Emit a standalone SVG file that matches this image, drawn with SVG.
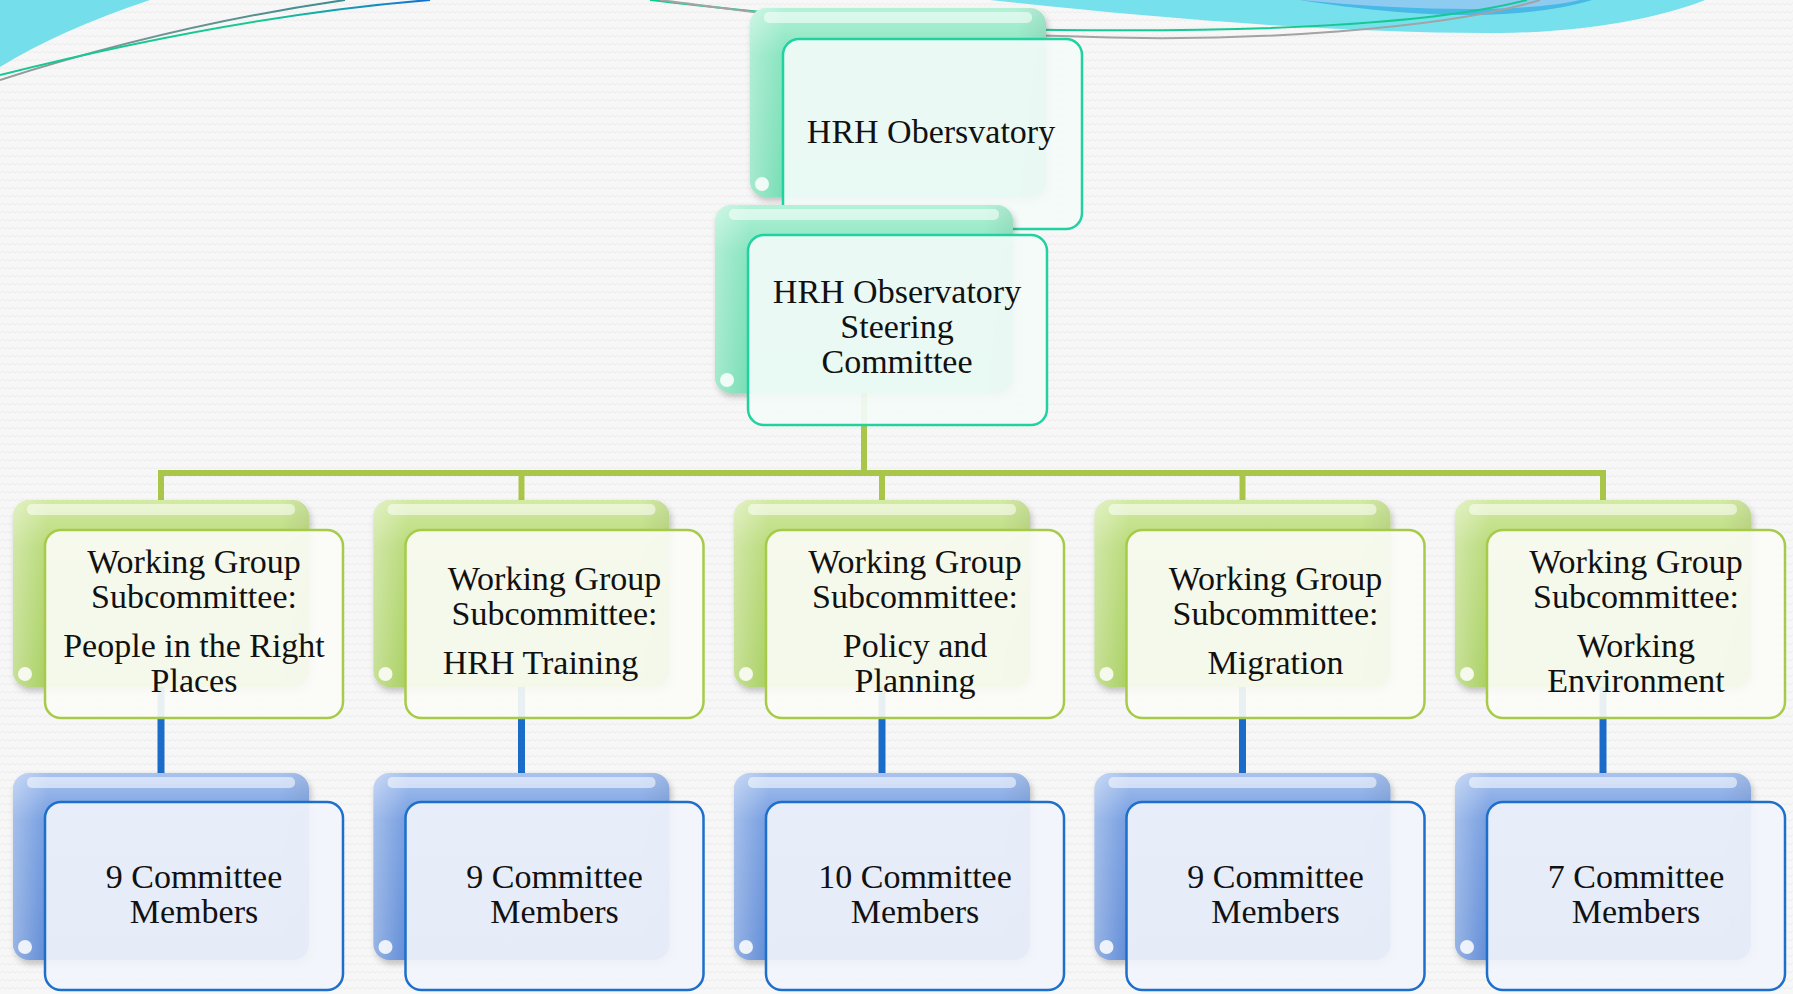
<svg xmlns="http://www.w3.org/2000/svg" width="1793" height="994" viewBox="0 0 1793 994">
<defs>
<pattern id="bgp" width="10" height="8" patternUnits="userSpaceOnUse">
<rect width="10" height="8" fill="#f7f7f7"/>
<path d="M0,5 L2.5,3 L5,5 L7.5,3 L10,5" fill="none" stroke="#ececec" stroke-width="1"/>
</pattern>
<linearGradient id="gGreen" x1="0" y1="0" x2="0" y2="1">
<stop offset="0" stop-color="#d3eaa4"/><stop offset="0.25" stop-color="#b8da78"/><stop offset="1" stop-color="#a8cf5f"/>
</linearGradient>
<linearGradient id="gBlue" x1="0" y1="0" x2="0" y2="1">
<stop offset="0" stop-color="#a9c3ef"/><stop offset="0.25" stop-color="#739ce0"/><stop offset="1" stop-color="#5e8ad6"/>
</linearGradient>
<linearGradient id="gTeal" x1="0" y1="0" x2="0" y2="1">
<stop offset="0" stop-color="#b4f2d8"/><stop offset="0.25" stop-color="#86e4be"/><stop offset="1" stop-color="#74ddb3"/>
</linearGradient>
<linearGradient id="gSide" x1="0" y1="0" x2="1" y2="0">
<stop offset="0" stop-color="#ffffff" stop-opacity="0.35"/><stop offset="0.12" stop-color="#ffffff" stop-opacity="0"/><stop offset="0.9" stop-color="#000" stop-opacity="0"/><stop offset="1" stop-color="#000" stop-opacity="0.06"/>
</linearGradient>
<linearGradient id="lnGreen" x1="0" y1="0" x2="430" y2="0" gradientUnits="userSpaceOnUse">
<stop offset="0" stop-color="#15c993"/><stop offset="0.6" stop-color="#15c993"/><stop offset="1" stop-color="#1570d4"/>
</linearGradient>
<linearGradient id="lnGray" x1="0" y1="0" x2="345" y2="0" gradientUnits="userSpaceOnUse">
<stop offset="0" stop-color="#9a9a9a"/><stop offset="1" stop-color="#3d8c8e"/>
</linearGradient>
<filter id="sh" x="-10%" y="-10%" width="120%" height="125%">
<feDropShadow dx="2" dy="4" stdDeviation="3" flood-color="#000" flood-opacity="0.22"/>
</filter>
<style>
.t{font-family:"Palatino Linotype","Book Antiqua",Palatino,"Liberation Serif",serif;font-size:34px;fill:#111;text-anchor:middle}
.bk{filter:url(#sh)}
.bkG{fill:url(#gGreen)}
.bkB{fill:url(#gBlue)}
.bkT{fill:url(#gTeal)}
.side{fill:url(#gSide)}
.hl{fill:#ffffff;opacity:0.55}
.dot{fill:#ffffff;opacity:0.85}
.frG{fill:#fbfcf6;fill-opacity:0.92;stroke:#a7cb48;stroke-width:2.5}
.frB{fill:#f1f4fb;fill-opacity:0.92;stroke:#1d6fcb;stroke-width:2.5}
.frT{fill:#f3fbf8;fill-opacity:0.92;stroke:#20d2a0;stroke-width:2.5}
.cG{stroke:#a9c64a;stroke-width:6;fill:none}
.cB{stroke:#1a6cc8;stroke-width:7;fill:none}
</style>
</defs>

<rect width="1793" height="994" fill="url(#bgp)"/>

<g id="decor">
<path d="M0,0 L150,0 Q60,30 0,67 Z" fill="#74dfeb"/>
<path d="M0,80 C100,48 220,18 345,0" fill="none" stroke="url(#lnGray)" stroke-width="2"/>
<path d="M0,75 C120,45 280,12 430,0" fill="none" stroke="url(#lnGreen)" stroke-width="2"/>
<path d="M990,0 C1150,18 1350,34 1500,33 C1600,32 1670,14 1705,0 Z" fill="#76e0ec"/>
<path d="M1300,0 C1360,10 1430,16 1480,15 C1530,14 1570,7 1592,0 Z" fill="#48b8e6"/>
<path d="M1300,0 C1360,6 1420,9 1470,9 C1520,9 1560,5 1580,0 Z" fill="#8ecbf0"/>
<path d="M650,0 C760,12 900,29 1060,30 C1250,32 1430,25 1527,0" fill="none" stroke="#15c993" stroke-width="2"/>
<path d="M660,0 C770,14 900,33 1060,36 C1250,44 1450,28 1540,0" fill="none" stroke="#a3a3a3" stroke-width="2"/>
</g>

<g id="connectors">
<path class="cG" d="M864,393 V473 M161,473 H1603 M161,470 V500 M521.5,470 V500 M882,470 V500 M1242.5,470 V500 M1603,470 V500"/>
<path class="cB" d="M161,687 V773 M521.5,687 V773 M882,687 V773 M1242.5,687 V773 M1603,687 V773"/>
</g>

<g id="node-observatory">
<rect class="bk bkT" x="750" y="8" width="296" height="189" rx="16"/>
<rect class="side" x="750" y="8" width="296" height="189" rx="16"/>
<rect class="hl" x="764" y="12" width="268" height="11" rx="5"/>
<circle class="dot" cx="762" cy="184" r="7"/>
<rect class="frT" x="783" y="39" width="299" height="190" rx="16"/>
<text class="t" x="931" y="143">HRH Obersvatory</text>
</g>

<g id="node-steering">
<rect class="bk bkT" x="715" y="205" width="298" height="188" rx="16"/>
<rect class="side" x="715" y="205" width="298" height="188" rx="16"/>
<rect class="hl" x="729" y="209" width="270" height="11" rx="5"/>
<circle class="dot" cx="727" cy="380" r="7"/>
<rect class="frT" x="748" y="235" width="299" height="190" rx="16"/>
<text class="t" x="897" y="303">HRH Observatory</text>
<text class="t" x="897" y="338">Steering</text>
<text class="t" x="897" y="373">Committee</text>
</g>

<g id="wg-people">
<rect class="bk bkG" x="13" y="500" width="296" height="187" rx="16"/>
<rect class="side" x="13" y="500" width="296" height="187" rx="16"/>
<rect class="hl" x="27" y="504" width="268" height="11" rx="5"/>
<circle class="dot" cx="25" cy="674" r="7"/>
<rect class="frG" x="45" y="530" width="298" height="188" rx="16"/>
<text class="t" x="194" y="573">Working Group</text>
<text class="t" x="194" y="608">Subcommittee:</text>
<text class="t" x="194" y="657">People in the Right</text>
<text class="t" x="194" y="692">Places</text>
</g>

<g id="wg-training" transform="translate(360.5,0)">
<rect class="bk bkG" x="13" y="500" width="296" height="187" rx="16"/>
<rect class="side" x="13" y="500" width="296" height="187" rx="16"/>
<rect class="hl" x="27" y="504" width="268" height="11" rx="5"/>
<circle class="dot" cx="25" cy="674" r="7"/>
<rect class="frG" x="45" y="530" width="298" height="188" rx="16"/>
<text class="t" x="194" y="590">Working Group</text>
<text class="t" x="194" y="625">Subcommittee:</text>
<text class="t" x="180" y="674">HRH Training</text>
</g>

<g id="wg-policy" transform="translate(721,0)">
<rect class="bk bkG" x="13" y="500" width="296" height="187" rx="16"/>
<rect class="side" x="13" y="500" width="296" height="187" rx="16"/>
<rect class="hl" x="27" y="504" width="268" height="11" rx="5"/>
<circle class="dot" cx="25" cy="674" r="7"/>
<rect class="frG" x="45" y="530" width="298" height="188" rx="16"/>
<text class="t" x="194" y="573">Working Group</text>
<text class="t" x="194" y="608">Subcommittee:</text>
<text class="t" x="194" y="657">Policy and</text>
<text class="t" x="194" y="692">Planning</text>
</g>

<g id="wg-migration" transform="translate(1081.5,0)">
<rect class="bk bkG" x="13" y="500" width="296" height="187" rx="16"/>
<rect class="side" x="13" y="500" width="296" height="187" rx="16"/>
<rect class="hl" x="27" y="504" width="268" height="11" rx="5"/>
<circle class="dot" cx="25" cy="674" r="7"/>
<rect class="frG" x="45" y="530" width="298" height="188" rx="16"/>
<text class="t" x="194" y="590">Working Group</text>
<text class="t" x="194" y="625">Subcommittee:</text>
<text class="t" x="194" y="674">Migration</text>
</g>

<g id="wg-environment" transform="translate(1442,0)">
<rect class="bk bkG" x="13" y="500" width="296" height="187" rx="16"/>
<rect class="side" x="13" y="500" width="296" height="187" rx="16"/>
<rect class="hl" x="27" y="504" width="268" height="11" rx="5"/>
<circle class="dot" cx="25" cy="674" r="7"/>
<rect class="frG" x="45" y="530" width="298" height="188" rx="16"/>
<text class="t" x="194" y="573">Working Group</text>
<text class="t" x="194" y="608">Subcommittee:</text>
<text class="t" x="194" y="657">Working</text>
<text class="t" x="194" y="692">Environment</text>
</g>

<g id="members-people">
<rect class="bk bkB" x="13" y="773" width="296" height="187" rx="16"/>
<rect class="side" x="13" y="773" width="296" height="187" rx="16"/>
<rect class="hl" x="27" y="777" width="268" height="11" rx="5"/>
<circle class="dot" cx="25" cy="947" r="7"/>
<rect class="frB" x="45" y="802" width="298" height="188" rx="16"/>
<text class="t" x="194" y="888">9 Committee</text>
<text class="t" x="194" y="923">Members</text>
</g>

<g id="members-training" transform="translate(360.5,0)">
<rect class="bk bkB" x="13" y="773" width="296" height="187" rx="16"/>
<rect class="side" x="13" y="773" width="296" height="187" rx="16"/>
<rect class="hl" x="27" y="777" width="268" height="11" rx="5"/>
<circle class="dot" cx="25" cy="947" r="7"/>
<rect class="frB" x="45" y="802" width="298" height="188" rx="16"/>
<text class="t" x="194" y="888">9 Committee</text>
<text class="t" x="194" y="923">Members</text>
</g>

<g id="members-policy" transform="translate(721,0)">
<rect class="bk bkB" x="13" y="773" width="296" height="187" rx="16"/>
<rect class="side" x="13" y="773" width="296" height="187" rx="16"/>
<rect class="hl" x="27" y="777" width="268" height="11" rx="5"/>
<circle class="dot" cx="25" cy="947" r="7"/>
<rect class="frB" x="45" y="802" width="298" height="188" rx="16"/>
<text class="t" x="194" y="888">10 Committee</text>
<text class="t" x="194" y="923">Members</text>
</g>

<g id="members-migration" transform="translate(1081.5,0)">
<rect class="bk bkB" x="13" y="773" width="296" height="187" rx="16"/>
<rect class="side" x="13" y="773" width="296" height="187" rx="16"/>
<rect class="hl" x="27" y="777" width="268" height="11" rx="5"/>
<circle class="dot" cx="25" cy="947" r="7"/>
<rect class="frB" x="45" y="802" width="298" height="188" rx="16"/>
<text class="t" x="194" y="888">9 Committee</text>
<text class="t" x="194" y="923">Members</text>
</g>

<g id="members-environment" transform="translate(1442,0)">
<rect class="bk bkB" x="13" y="773" width="296" height="187" rx="16"/>
<rect class="side" x="13" y="773" width="296" height="187" rx="16"/>
<rect class="hl" x="27" y="777" width="268" height="11" rx="5"/>
<circle class="dot" cx="25" cy="947" r="7"/>
<rect class="frB" x="45" y="802" width="298" height="188" rx="16"/>
<text class="t" x="194" y="888">7 Committee</text>
<text class="t" x="194" y="923">Members</text>
</g>
</svg>
